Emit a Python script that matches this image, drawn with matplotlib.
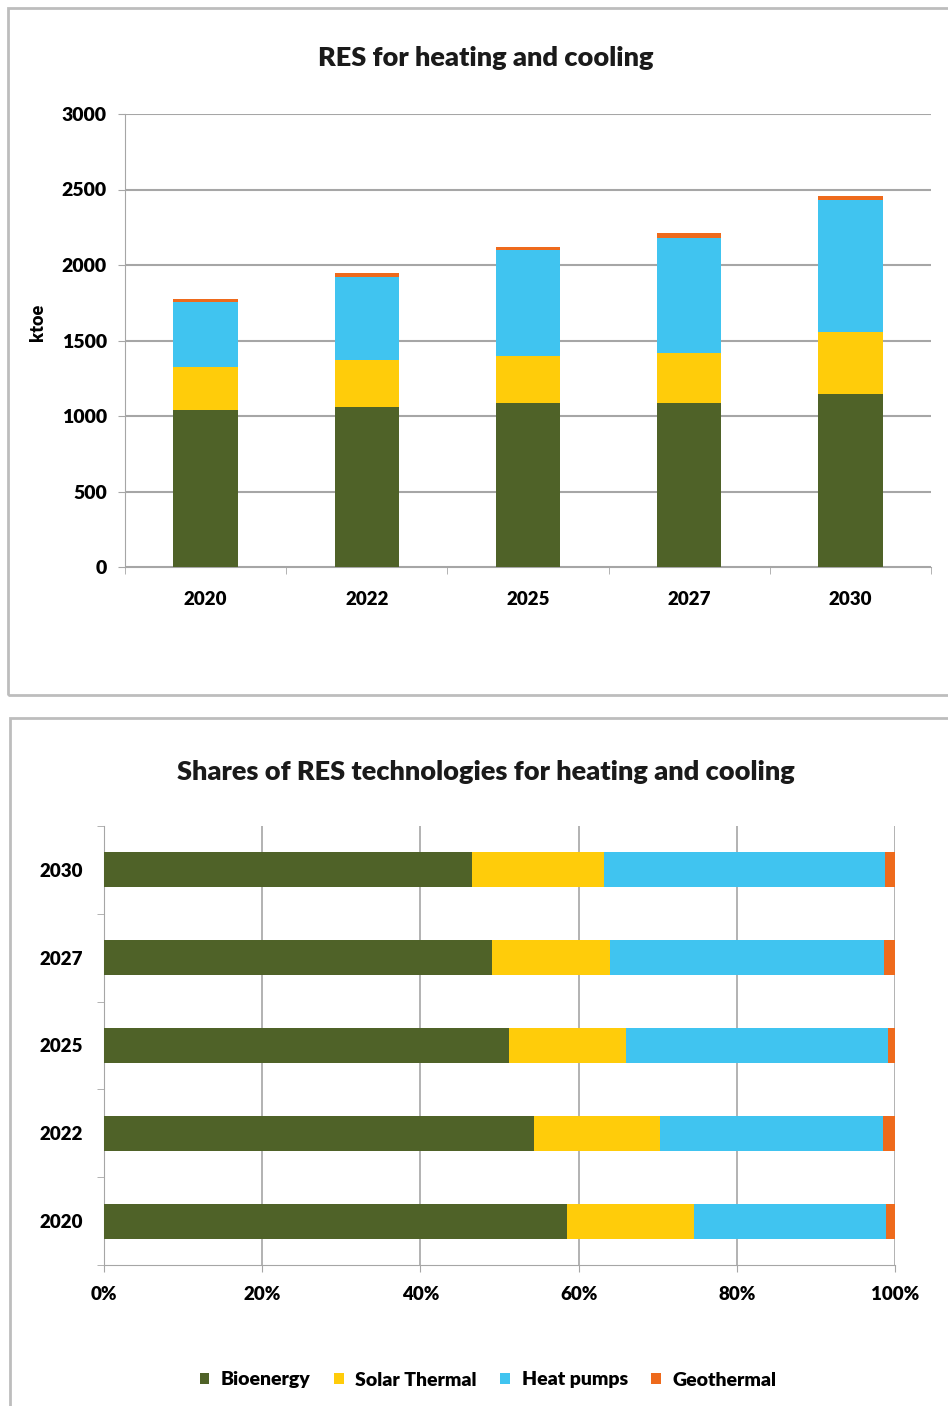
import numpy as np
import matplotlib.pyplot as plt
from matplotlib.patches import Rectangle

# data (ktoe)
years = ['2020', '2022', '2025', '2027', '2030']
bioenergy = [1040, 1060, 1085, 1085, 1145]
solar_thermal = [285, 310, 315, 330, 410]
heat_pumps = [430, 550, 700, 765, 875]
geothermal = [20, 30, 20, 30, 30]
series_names = ['Bioenergy', 'Solar Thermal', 'Heat pumps', 'Geothermal']
colors = ['#4F6228', '#FFCC0A', '#40C4F0', '#EE6A1C']

plt.rcParams['font.family'] = ['Lato', 'DejaVu Sans']
plt.rcParams['font.weight'] = 'heavy'

W, H = 948, 1406
fig = plt.figure(figsize=(W / 100, H / 100), dpi=100)


def px_axes(left, top, right, bottom):
    # pixel box -> figure coords
    return fig.add_axes([left / W, 1 - bottom / H, (right - left) / W, (bottom - top) / H])


# panel frames
fig.patches.append(Rectangle((8 / W, 1 - 695 / H), 960 / W, 687 / H, transform=fig.transFigure,
                             fill=False, edgecolor='#BDBDBD', lw=2))
fig.patches.append(Rectangle((10 / W, -0.01), 960 / W, 1 - 718 / H + 0.01, transform=fig.transFigure,
                             fill=False, edgecolor='#BDBDBD', lw=2))

series = [bioenergy, solar_thermal, heat_pumps, geothermal]
x = np.arange(len(years))

# ---- top: stacked columns ----
ax1 = px_axes(125, 114, 931, 567)
bottom = np.zeros(len(years))
for vals, c in zip(series, colors):
    ax1.bar(x, vals, width=0.4, bottom=bottom, color=c, zorder=3)
    bottom += np.array(vals)
ax1.set_xlim(-0.5, len(years) - 0.5)
ax1.set_ylim(0, 3000)
ax1.set_yticks(np.arange(0, 3001, 500))
ax1.set_xticks(x)
ax1.set_xticklabels(years)
ax1.set_xticks(np.arange(-0.5, len(years)), minor=True)
ax1.tick_params(axis='x', which='major', length=0, pad=17, labelsize=13.5)
ax1.tick_params(axis='x', which='minor', length=5, color='#A6A6A6')
ax1.tick_params(axis='y', length=5, color='#A6A6A6', pad=8, labelsize=14)
ax1.grid(axis='y', color='#A6A6A6', lw=1.5, zorder=0)
for s in ['top', 'right']:
    ax1.spines[s].set_visible(False)
for s in ['left', 'bottom']:
    ax1.spines[s].set_color('#A6A6A6')
ax1.set_ylabel('ktoe', fontsize=13, fontweight='heavy', va='center')
ax1.yaxis.set_label_coords(-0.108, 0.54)
fig.text(486 / W, 1 - 58 / H, 'RES for heating and cooling', ha='center', va='center',
         fontsize=19.5, color='#1a1a1a')

# ---- bottom: 100% stacked bars ----
ax2 = px_axes(104, 826, 895, 1265)
totals = np.sum(series, axis=0)
left = np.zeros(len(years))
handles = []
for vals, c, name in zip(series, colors, series_names):
    share = np.array(vals) / totals
    h = ax2.barh(x, share, height=0.4, left=left, color=c, zorder=3, label=name)
    handles.append(h)
    left += share
ax2.set_xlim(0, 1)
ax2.set_ylim(-0.5, len(years) - 0.5)
ax2.set_xticks(np.arange(0, 1.01, 0.2))
ax2.set_xticklabels(['0%', '20%', '40%', '60%', '80%', '100%'])
ax2.set_yticks(x)
ax2.set_yticklabels(years)
ax2.set_yticks(np.arange(-0.5, len(years)), minor=True)
ax2.tick_params(axis='y', which='major', length=0, pad=15, labelsize=13.5)
ax2.tick_params(axis='y', which='minor', length=5, color='#A6A6A6')
ax2.tick_params(axis='x', length=5, color='#A6A6A6', pad=10, labelsize=13.5)
ax2.grid(axis='x', color='#A6A6A6', lw=1.2, zorder=0)
for s in ['top', 'right']:
    ax2.spines[s].set_visible(False)
for s in ['left', 'bottom']:
    ax2.spines[s].set_color('#A6A6A6')
fig.text(486 / W, 1 - 772 / H, 'Shares of RES technologies for heating and cooling', ha='center',
         va='center', fontsize=19.5, color='#1a1a1a')

fig.legend(handles=handles, loc='center', bbox_to_anchor=(488 / W, 1 - 1380 / H), ncol=4,
           frameon=False, fontsize=14, handlelength=0.5, handleheight=0.5, handletextpad=0.6,
           columnspacing=1.2)

fig.savefig('out.png', dpi=100)
